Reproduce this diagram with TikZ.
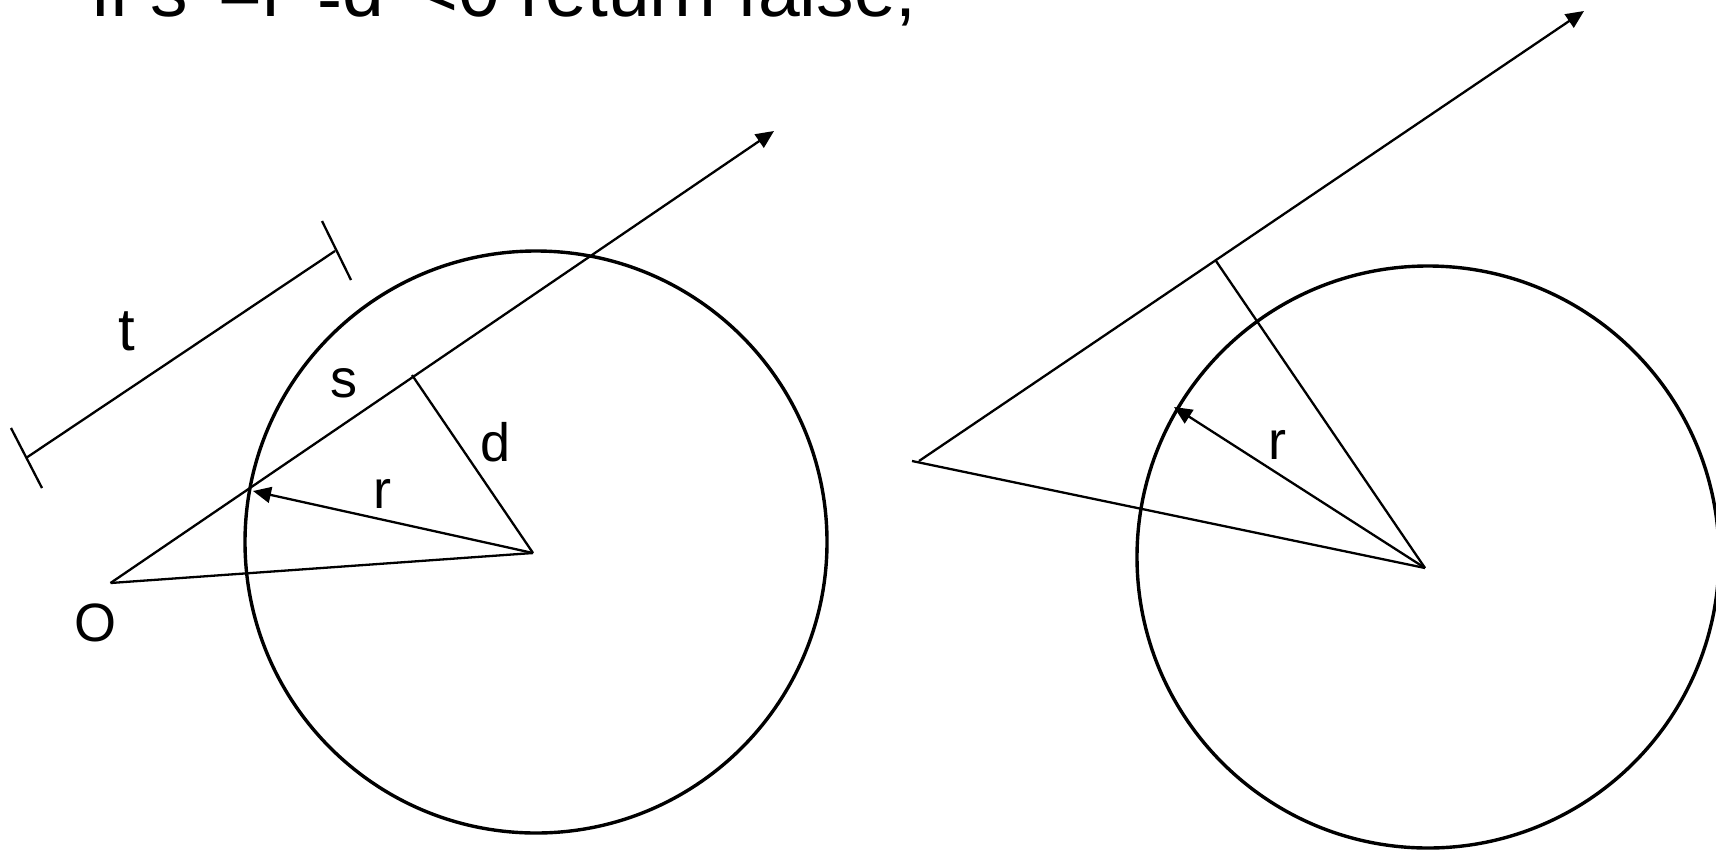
\documentclass[tikz,border=0pt]{standalone}
\usepackage{fontspec}
\setmainfont{Liberation Sans}
\usetikzlibrary{arrows.meta}
\tikzset{
  ring/.style={
    circle,
    draw,
    line width=1.7pt,
    inner sep=0pt,
    minimum size=291pt
  },
  seg/.style={draw, line width=1.15pt},
  vec/.style={-{Triangle[length=9pt,width=8pt]}, line width=1.15pt},
  lbl/.style={inner sep=0pt, font=\fontsize{27pt}{30pt}\selectfont},
  code/.style={inner sep=0pt, anchor=base west, font=\fontsize{37.5pt}{42pt}\selectfont}
}

\begin{document}
\begin{tikzpicture}[x=0.5pt, y=-0.5pt]
  \useasboundingbox (0,0) rectangle (1716,851);

  % test line, cut off by the top edge
  \node[code] (testLine) at (92,17) {if s\textsuperscript{2}=r\textsuperscript{2}\raisebox{-4pt}{-}d\textsuperscript{2}<0 return false;};

  % left: ray hits the sphere
  \node[ring] (sphereA) at (536,542) {};
  \coordinate (originA) at (110.5,583);
  \coordinate (rayEndA) at (774,131);
  \coordinate (centerA) at (533,553);
  \coordinate (footA) at (412,375);
  \coordinate (hitA) at (253,491);

  \draw[seg] (originA) -- (centerA);
  \draw[vec] (originA) -- (rayEndA);
  \draw[seg] (centerA) -- (footA);
  \draw[vec] (centerA) -- (hitA);

  \node[lbl] (labelO) at (95,623) {O};
  \node[lbl] (labelRA) at (382,494) {r};
  \node[lbl] (labelD) at (496,442) {d};
  \node[lbl] (labelS) at (344,383) {s};

  % length t along the ray
  \coordinate (tStart) at (26,458);
  \coordinate (tEnd) at (335,251);
  \coordinate (tStartUp) at (11,428);
  \coordinate (tStartDown) at (42,488);
  \coordinate (tEndUp) at (322,221);
  \coordinate (tEndDown) at (351,280);
  \draw[seg] (tStart) -- (tEnd);
  \draw[seg] (tStartUp) -- (tStartDown);
  \draw[seg] (tEndUp) -- (tEndDown);
  \node[lbl, font=\fontsize{30pt}{32pt}\selectfont] (labelT) at (127,331) {t};

  % right: ray misses the sphere
  \node[ring] (sphereB) at (1428,557) {};
  \coordinate (originB) at (919,461);
  \coordinate (tailB) at (912,461);
  \coordinate (rayEndB) at (1584,11);
  \coordinate (centerB) at (1425,568);
  \coordinate (footB) at (1216,261);
  \coordinate (hitB) at (1174,407);

  \draw[seg] (tailB) -- (centerB);
  \draw[vec] (originB) -- (rayEndB);
  \draw[seg] (centerB) -- (footB);
  \draw[vec] (centerB) -- (hitB);

  \node[lbl] (labelRB) at (1277,445) {r};
\end{tikzpicture}
\end{document}
